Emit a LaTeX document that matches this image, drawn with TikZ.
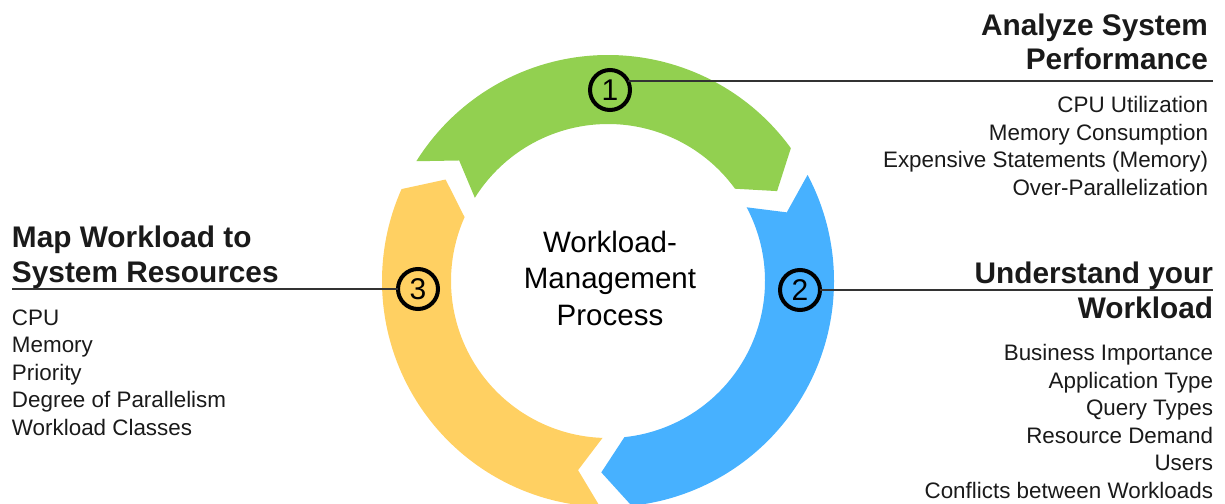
\documentclass[tikz,border=0pt]{standalone}
\usepackage{fontspec}
\setmainfont{Liberation Sans}
\usepackage{tikz}
\usetikzlibrary{positioning}

\definecolor{stepgreen}{HTML}{92D050}
\definecolor{stepblue}{HTML}{47B1FF}
\definecolor{stepyellow}{HTML}{FFD062}
\definecolor{inkgrey}{HTML}{1A1A1A}

\begin{document}
\begin{tikzpicture}[x=1pt, y=1pt, inner sep=0pt, outer sep=0pt,
  num/.style = {circle, draw=black, line width=4pt, fill=none, minimum size=40pt, font=\fontsize{30}{30}\selectfont},
  head/.style = {font=\fontsize{29.8}{34.8}\selectfont\bfseries, text=inkgrey},
  items/.style = {font=\fontsize{22.4}{27.5}\selectfont, text=inkgrey},
  leader/.style = {draw=black!80, line width=1.6pt}]

\useasboundingbox (0,0) rectangle (1225,-503);

% ring of three arrows
\begin{scope}[shift={(608,-281)}]
\foreach \t/\col in {148/stepgreen, 28/stepblue, -92/stepyellow}
  \fill[\col] (\t:226) arc[start angle=\t, end angle=\t-112, radius=226]
    -- (\t-120:191.5) -- (\t-112:157) arc[start angle=\t-112, end angle=\t, radius=157]
    -- (\t-7:191.5) -- cycle;
\end{scope}

\node[font=\fontsize{29.5}{36.5}\selectfont, align=center, anchor=base] (core) at (610,-325) {Workload-\\Management\\Process};

\node[num] (one) at (610,-90) {1};
\node[num] (two) at (800,-290) {2};
\node[num] (three) at (418,-289) {3};

% headings and their lists (base = last line)
\node[head, align=right, anchor=base east] (perf) at (1208,-70) {Analyze System\\Performance};
\node[items, align=right, anchor=base east] (perflist) at (1208,-195) {CPU Utilization\\Memory Consumption\\Expensive Statements (Memory)\\Over-Parallelization};

\node[head, align=right, anchor=base east] (work) at (1213,-318) {Understand your\\Workload};
\node[items, align=right, anchor=base east] (worklist) at (1213,-498) {Business Importance\\Application Type\\Query Types\\Resource Demand\\Users\\Conflicts between Workloads};

\node[head, align=left, anchor=base west] (map) at (12,-282) {Map Workload to\\System Resources};
\node[items, align=left, anchor=base west] (maplist) at (12,-435) {CPU\\Memory\\Priority\\Degree of Parallelism\\Workload Classes};

\coordinate (oneend) at (1213,-80);
\coordinate (twoend) at (1213,-290);
\coordinate (threeend) at (12,-289);

\path[leader]
    (one.27) edge (one.27 -| oneend)
    (two.east) edge (twoend)
    (three.west) edge (threeend);
\end{tikzpicture}
\end{document}
